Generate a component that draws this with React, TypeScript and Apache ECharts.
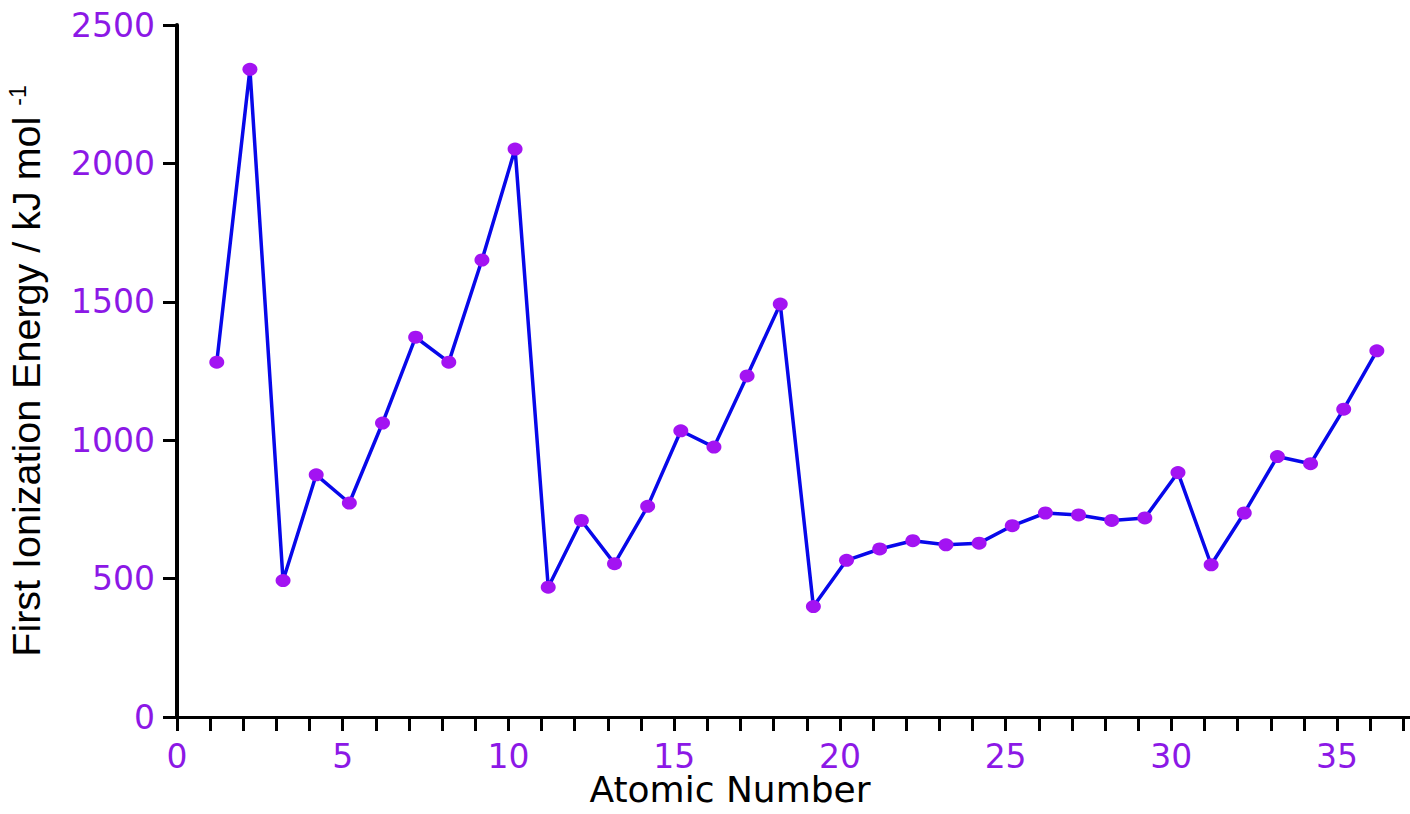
import React, { useEffect, useRef } from "react";
import * as echarts from "echarts";

// Atomic numbers (x) and first ionization energies (kJ/mol)
const atomicNumbers = [
  1, 2, 3, 4, 5, 6, 7, 8, 9, 10, 11, 12, 13, 14, 15, 16, 17, 18,
  19, 20, 21, 22, 23, 24, 25, 26, 27, 28, 29, 30, 31, 32, 33, 34, 35, 36,
];
const ionizationEnergy = [
  1282, 2340, 493, 875, 773, 1062, 1372, 1282, 1651, 2052, 469, 710, 554, 761,
  1034, 975, 1232, 1492, 399, 566, 607, 637, 622, 628, 691, 737, 730, 710, 719,
  883, 550, 737, 941, 915, 1112, 1323,
];

// Tick values
const xTicks = [
  0, 1, 2, 3, 4, 5, 6, 7, 8, 9, 10, 11, 12, 13, 14, 15, 16, 17, 18, 19, 20,
  21, 22, 23, 24, 25, 26, 27, 28, 29, 30, 31, 32, 33, 34, 35, 36, 37,
];
const xTickLabels = [0, 5, 10, 15, 20, 25, 30, 35];
const yTickLabels = [0, 500, 1000, 1500, 2000, 2500];

const xTitle = "Atomic Number";
const yTitle = "First Ionization Energy / kJ mol ";
const yTitleSup = "-1";

const LABEL_COLOR = "#8c18e6";
const MARKER_COLOR = "#a313f2";
const LINE_COLOR = "#0808ea";

export default function App() {
  const ref = useRef<HTMLDivElement>(null);

  useEffect(() => {
    if (!ref.current) return;
    const chart = echarts.init(ref.current, null, { renderer: "svg" });
    const data = atomicNumbers.map((n, i) => [n, ionizationEnergy[i]]);

    chart.setOption({
      animation: false,
      backgroundColor: "#ffffff",
      grid: {
        left: 177,
        right: 0,
        top: 25,
        bottom: 97,
        containLabel: false,
        outerBoundsMode: "none",
      },
      xAxis: [
        {
          type: "value",
          min: 0,
          max: 37.2,
          position: "bottom",
          axisLine: { show: true, onZero: false, lineStyle: { color: "#000", width: 3 } },
          axisTick: {
            show: true,
            customValues: xTicks,
            length: 14,
            lineStyle: { color: "#000", width: 3 },
          },
          axisLabel: {
            customValues: xTickLabels,
            color: LABEL_COLOR,
            fontFamily: "DejaVu Sans",
            fontSize: 33,
            lineHeight: 28,
            margin: 25,
            formatter: (v: number) => String(v),
          },
          splitLine: { show: false },
          name: xTitle,
          nameLocation: "middle",
          nameGap: 58,
          nameMoveOverlap: false,
          nameTextStyle: {
            color: "#000",
            fontFamily: "DejaVu Sans",
            fontSize: 36,
            lineHeight: 28,
            padding: [0, 127, 0, 0],
          },
        },
        {
          type: "value",
          min: -0.2,
          max: 37,
          show: false,
          position: "bottom",
          splitLine: { show: false },
        },
      ],
      yAxis: {
        type: "value",
        min: 0,
        max: 2500,
        interval: 500,
        axisLine: { show: true, lineStyle: { color: "#000", width: 4 } },
        axisTick: { show: true, length: 14, lineStyle: { color: "#000", width: 3 } },
        axisLabel: {
          customValues: yTickLabels,
          color: LABEL_COLOR,
          fontFamily: "DejaVu Sans",
          fontSize: 33,
          margin: 22,
          formatter: (v: number) => String(v),
        },
        splitLine: { show: false },
        name: yTitle + "{sup|" + yTitleSup + "}",
        nameLocation: "middle",
        nameGap: 131,
        nameMoveOverlap: false,
        nameTextStyle: {
          color: "#000",
          fontFamily: "Liberation Sans",
          fontSize: 39.5,
          rich: {
            sup: {
              fontFamily: "Liberation Sans",
              fontSize: 23,
              color: "#000",
              verticalAlign: "top",
            },
          },
        },
      },
      series: [
        {
          type: "line",
          xAxisIndex: 1,
          data,
          symbol: "circle",
          symbolSize: [15, 13],
          itemStyle: { color: MARKER_COLOR },
          lineStyle: { color: LINE_COLOR, width: 3.5 },
          z: 3,
        },
      ],
    });

    return () => chart.dispose();
  }, []);

  return (
    <div
      ref={ref}
      style={{
        position: "fixed",
        left: 0,
        top: 0,
        width: 1410,
        height: 814,
        background: "#fff",
      }}
    />
  );
}
